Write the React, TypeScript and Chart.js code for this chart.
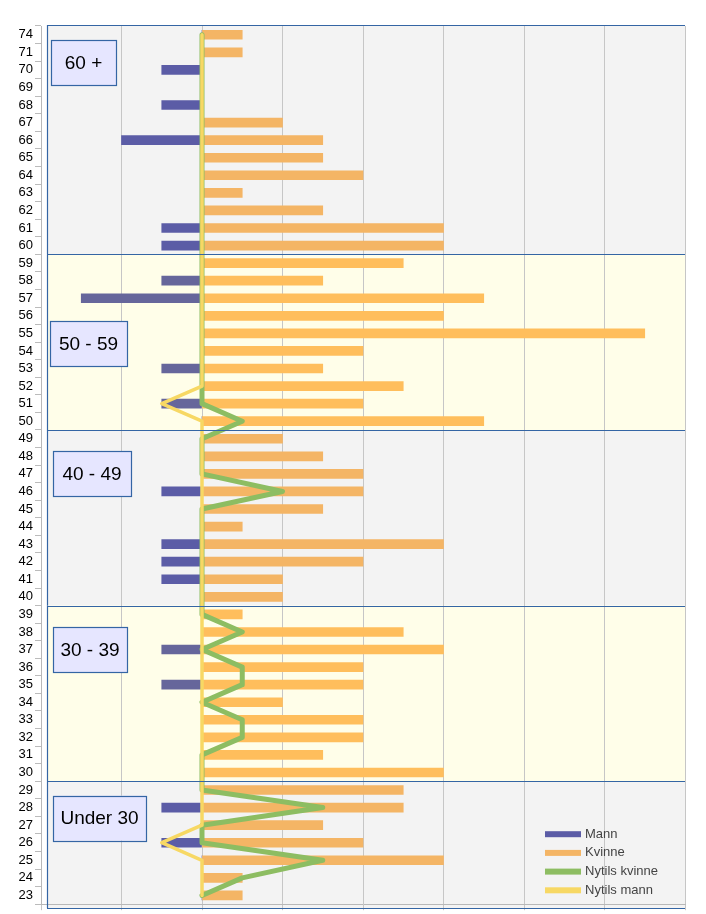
import React, { useEffect, useRef } from "react";
import { Chart, registerables } from "chart.js";

Chart.register(...registerables);

const ages = ["74","71","70","69","68","67","66","65","64","63","62","61","60","59","58","57","56","55","54","53","52","51","50","49","48","47","46","45","44","43","42","41","40","39","38","37","36","35","34","33","32","31","30","29","28","27","26","25","24","23"];

const mann = [0,0,-0.5,0,-0.5,0,-1,0,0,0,0,-0.5,-0.5, 0,-0.5,-1.5,0,0,0,-0.5,0,-0.5,0, 0,0,0,-0.5,0,0,-0.5,-0.5,-0.5,0, 0,0,-0.5,0,-0.5,0,0,0,0,0, 0,-0.5,0,-0.5,0,0,0];

const kvinne = [0.5,0.5,0,0,0,1,1.5,1.5,2,0.5,1.5,3,3, 2.5,1.5,3.5,3,5.5,2,1.5,2.5,2,3.5, 1,1.5,2,2,1.5,0.5,3,2,1,1, 0.5,2.5,3,2,2,1,2,2,1.5,3, 2.5,2.5,1.5,2,3,0.5,0.5];

const nytilsKvinne = [0,0,0,0,0,0,0,0,0,0,0,0,0, 0,0,0,0,0,0,0,0,0,0.5, 0,0,0,1,0,0,0,0,0,0, 0,0.5,0,0.5,0.5,0,0.5,0.5,0,0, 0,1.5,0,0,1.5,0.5,0];

const nytilsMann = [0,0,0,0,0,0,0,0,0,0,0,0,0, 0,0,0,0,0,0,0,0,-0.5,0, 0,0,0,0,0,0,0,0,0,0, 0,0,0,0,0,0,0,0,0,0, 0,0,0,-0.5,0,0,0];

const groupNames = ["60 +", "50 - 59", "40 - 49", "30 - 39", "Under 30"];
const groupFirst = ["74", "59", "49", "39", "29"];
const groupLast = ["60", "50", "40", "30", "23"];

const seriesNames = ["Mann", "Kvinne", "Nytils kvinne", "Nytils mann"];

const GRAY = "#f3f3f3";
const YELLOW = "#fffee9";
const BLUE = "#3465a4";
const MANN_C = "#5b5ca6";
const MANN_Y = "#66669b";
const KV_C = "#f4b565";
const KV_Y = "#ffbe5c";
const GREEN = "#8dbd62";
const YEL_LINE = "#f7d864";
const FONT = "'Liberation Sans', Arial, sans-serif";

function groupOf(label: string): number {
  const v = parseInt(label, 10);
  for (let g = 0; g < groupFirst.length; g++) {
    if (v <= parseInt(groupFirst[g], 10) && v >= parseInt(groupLast[g], 10)) return g;
  }
  return 0;
}

const labelAnchors = [1.6, 17.6, 25, 35, 44.6];
const labelLeft = [10, 9, 12, 12, 12];
const labelWidth = [65, 77, 78, 74, 93];

const bandsPlugin = {
  id: "bands",
  beforeDraw(chart: any) {
    const { ctx, chartArea } = chart;
    const y = chart.scales.y;
    const step = y.getPixelForValue(1) - y.getPixelForValue(0);
    const left = chartArea.left + 6;
    const right = chartArea.right;
    ctx.save();
    for (let g = 0; g < groupNames.length; g++) {
      const i0 = ages.indexOf(groupFirst[g]);
      const i1 = ages.indexOf(groupLast[g]);
      let top = y.getPixelForValue(i0) - step / 2;
      let bot = y.getPixelForValue(i1) + step / 2;
      if (g === 0) top -= 1;
      if (g === groupNames.length - 1) bot += 4;
      ctx.fillStyle = g % 2 === 0 ? GRAY : YELLOW;
      ctx.fillRect(left, top, right - left, bot - top);
    }
    ctx.restore();
  },
  afterDatasetsDraw(chart: any) {
    const { ctx, chartArea } = chart;
    const y = chart.scales.y;
    const step = y.getPixelForValue(1) - y.getPixelForValue(0);
    const left = chartArea.left + 6;
    const right = chartArea.right;
    ctx.save();
    ctx.strokeStyle = BLUE;
    ctx.lineWidth = 1.2;
    for (let g = 0; g < groupNames.length; g++) {
      const i0 = ages.indexOf(groupFirst[g]);
      const i1 = ages.indexOf(groupLast[g]);
      let top = y.getPixelForValue(i0) - step / 2;
      let bot = y.getPixelForValue(i1) + step / 2;
      if (g === 0) top -= 1;
      if (g === groupNames.length - 1) bot += 4;
      ctx.beginPath();
      ctx.moveTo(left, Math.round(top) + 0.5);
      ctx.lineTo(right, Math.round(top) + 0.5);
      ctx.moveTo(left, Math.round(bot) + 0.5);
      ctx.lineTo(right, Math.round(bot) + 0.5);
      ctx.moveTo(Math.round(left) + 0.5, top);
      ctx.lineTo(Math.round(left) + 0.5, bot);
      ctx.stroke();
    }
    ctx.font = `19px ${FONT}`;
    ctx.textBaseline = "middle";
    ctx.textAlign = "center";
    for (let g = 0; g < groupNames.length; g++) {
      const cy = y.getPixelForValue(0) + labelAnchors[g] * step;
      const w = labelWidth[g];
      const h = 45;
      const x = chartArea.left + labelLeft[g];
      ctx.fillStyle = "#e6e6ff";
      ctx.fillRect(x, cy - h / 2, w, h);
      ctx.strokeStyle = BLUE;
      ctx.lineWidth = 1.2;
      ctx.strokeRect(Math.round(x) + 0.5, Math.round(cy - h / 2) + 0.5, Math.round(w), h);
      ctx.fillStyle = "#000";
      ctx.fillText(groupNames[g], x + w / 2, cy + 1);
    }
    ctx.restore();
  },
  afterDraw(chart: any) {
    const { ctx, chartArea } = chart;
    const colors = [MANN_C, KV_C, GREEN, YEL_LINE];
    ctx.save();
    ctx.font = `13px ${FONT}`;
    ctx.textBaseline = "middle";
    ctx.textAlign = "left";
    for (let i = 0; i < seriesNames.length; i++) {
      const cy = chartArea.bottom - 70 + i * 18.7;
      const x = chartArea.right - 140;
      ctx.fillStyle = colors[i];
      ctx.fillRect(x, cy - 3, 36, 6);
      ctx.fillStyle = "#444";
      ctx.fillText(seriesNames[i], x + 40, cy);
    }
    ctx.restore();
  },
};

export default function App() {
  const ref = useRef<HTMLCanvasElement>(null);
  useEffect(() => {
    document.body.style.margin = "0";
    const mannColors = ages.map((a) => (groupOf(a) % 2 === 0 ? MANN_C : MANN_Y));
    const kvColors = ages.map((a) => (groupOf(a) % 2 === 0 ? KV_C : KV_Y));
    const chart = new Chart(ref.current as HTMLCanvasElement, {
      type: "bar",
      data: {
        labels: ages,
        datasets: [
          {
            label: seriesNames[0],
            data: mann,
            backgroundColor: mannColors,
            barThickness: 9,
            grouped: false,
            order: 4,
          } as any,
          {
            label: seriesNames[1],
            data: kvinne,
            backgroundColor: kvColors,
            barThickness: 9,
            grouped: false,
            order: 3,
          } as any,
          {
            type: "line",
            label: seriesNames[2],
            data: nytilsKvinne,
            borderColor: GREEN,
            backgroundColor: GREEN,
            borderWidth: 5,
            borderJoinStyle: "round",
            borderCapStyle: "round",
            pointRadius: 0,
            tension: 0,
            indexAxis: "y",
            order: 2,
          } as any,
          {
            type: "line",
            label: seriesNames[3],
            data: nytilsMann,
            borderColor: YEL_LINE,
            backgroundColor: YEL_LINE,
            borderWidth: 3.5,
            borderJoinStyle: "round",
            borderCapStyle: "round",
            pointRadius: 0,
            tension: 0,
            indexAxis: "y",
            order: 1,
          } as any,
        ],
      },
      options: {
        indexAxis: "y",
        responsive: false,
        animation: false,
        layout: { padding: { top: 26, right: 21, bottom: 0, left: 0 } },
        plugins: {
          legend: { display: false },
          tooltip: { enabled: false },
        },
        scales: {
          x: {
            type: "linear",
            min: -2,
            max: 6,
            ticks: { display: false, stepSize: 1 },
            grid: { color: "#c6c6c6", tickLength: 6, drawTicks: true },
            border: { display: true, color: "#b8b8b8" },
            afterFit: (s: any) => {
              s.height = 8;
            },
          },
          y: {
            type: "category",
            ticks: {
              color: "#000",
              font: { family: FONT, size: 13 },
              padding: 2,
              autoSkip: false,
            },
            grid: { drawOnChartArea: false, tickLength: 6, color: "#bbbbbb", offset: true },
            border: { display: true, color: "#b8b8b8" },
            afterFit: (s: any) => {
              s.width = 41;
            },
          },
        },
      } as any,
      plugins: [bandsPlugin],
    });
    return () => chart.destroy();
  }, []);
  return (
    <div style={{ width: 706, height: 914, position: "relative" }}>
      <canvas ref={ref} width={706} height={914} style={{ display: "block" }} />
    </div>
  );
}
